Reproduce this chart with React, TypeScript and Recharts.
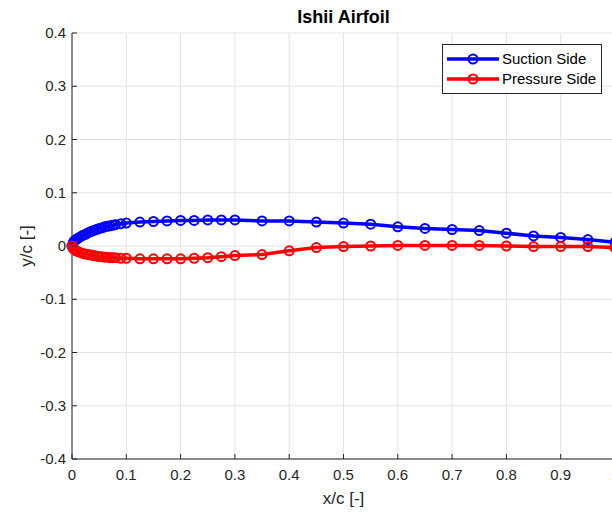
import React from 'react';
import { LineChart, Line, XAxis, YAxis, CartesianGrid } from 'recharts';

// Airfoil coordinates (x/c, y/c)
const xCoords = [
  0, 0.0025, 0.005, 0.0075, 0.01, 0.015, 0.02, 0.025, 0.03, 0.035, 0.04, 0.045, 0.05, 0.055, 0.06,
  0.065, 0.07, 0.075, 0.08, 0.09, 0.1, 0.125, 0.15, 0.175, 0.2, 0.225, 0.25, 0.275, 0.3, 0.35, 0.4,
  0.45, 0.5, 0.55, 0.6, 0.65, 0.7, 0.75, 0.8, 0.85, 0.9, 0.95, 1,
];
const suctionY = [
  0, 0.007, 0.01, 0.012, 0.014, 0.017, 0.02, 0.022, 0.025, 0.027, 0.029, 0.031, 0.033, 0.034, 0.036,
  0.037, 0.038, 0.039, 0.04, 0.042, 0.043, 0.045, 0.046, 0.047, 0.048, 0.048, 0.049, 0.049, 0.049, 0.047, 0.047,
  0.045, 0.043, 0.041, 0.036, 0.033, 0.031, 0.029, 0.024, 0.019, 0.016, 0.012, 0.007,
];
const pressureY = [
  0, -0.005, -0.007, -0.009, -0.01, -0.012, -0.014, -0.015, -0.016, -0.017, -0.018, -0.019, -0.02, -0.02, -0.021,
  -0.021, -0.022, -0.022, -0.022, -0.023, -0.023, -0.024, -0.024, -0.024, -0.024, -0.023, -0.022, -0.02, -0.018, -0.016, -0.009,
  -0.003, -0.001, 0, 0.001, 0.001, 0.001, 0.001, 0, -0.001, -0.001, -0.001, -0.003,
];

const xTicks = [0, 0.1, 0.2, 0.3, 0.4, 0.5, 0.6, 0.7, 0.8, 0.9, 1];
const yTicks = [-0.4, -0.3, -0.2, -0.1, 0, 0.1, 0.2, 0.3, 0.4];

const suction = xCoords.map((x, i) => ({ x, y: suctionY[i] }));
const pressure = xCoords.map((x, i) => ({ x, y: pressureY[i] }));

const FONT = '"Liberation Sans", Arial, sans-serif';
const INK = '#262626';

// ticks point inward, like a MATLAB box axis
const BottomTick = ({ x, y, payload }: any) => (
  <g>
    <line x1={x} y1={y} x2={x} y2={y - 5} stroke={INK} />
    <text x={x} y={y + 21} textAnchor="middle" fontSize={15} fill={INK} fontFamily={FONT}>
      {payload.value}
    </text>
  </g>
);
const TopTick = ({ x, y }: any) => <line x1={x} y1={y} x2={x} y2={y + 5} stroke={INK} />;
const LeftTick = ({ x, y, payload }: any) => (
  <g>
    <line x1={x} y1={y} x2={x + 5} y2={y} stroke={INK} />
    <text x={x - 6} y={y + 5} textAnchor="end" fontSize={15} fill={INK} fontFamily={FONT}>
      {payload.value}
    </text>
  </g>
);
const RightTick = ({ x, y }: any) => <line x1={x} y1={y} x2={x - 5} y2={y} stroke={INK} />;

const legendItems = [
  { name: 'Suction Side', color: '#0000ff' },
  { name: 'Pressure Side', color: '#ff0000' },
];

const LegendBox = () => (
  <div
    style={{
      position: 'absolute',
      left: 442,
      top: 44,
      width: 160,
      boxSizing: 'border-box',
      border: `1px solid ${INK}`,
      background: '#fff',
      padding: '4px 4px',
      fontFamily: FONT,
      fontSize: 15,
      color: '#000',
      lineHeight: '20px',
    }}
  >
    {legendItems.map((it) => (
      <div key={it.name} style={{ display: 'flex', alignItems: 'center' }}>
        <svg width={52} height={20} style={{ marginRight: 3, flex: 'none' }}>
          <line x1={0} y1={10} x2={52} y2={10} stroke={it.color} strokeWidth={3.5} />
          <circle cx={26} cy={10} r={4.5} fill="none" stroke={it.color} strokeWidth={2} />
        </svg>
        <span style={{ whiteSpace: 'nowrap' }}>{it.name}</span>
      </div>
    ))}
  </div>
);

export default function App() {
  return (
    <div style={{ position: 'absolute', left: 0, top: 0, width: 612, height: 514, overflow: 'hidden', background: '#fff' }}>
      <div
        style={{
          position: 'absolute',
          left: 72,
          width: 543,
          top: 7,
          textAlign: 'center',
          fontFamily: FONT,
          fontWeight: 'bold',
          fontSize: 18,
          color: '#000',
        }}
      >
        Ishii Airfoil
      </div>
      <LineChart width={630} height={514} margin={{ top: 33, right: 15, bottom: 0, left: 0 }}>
        <CartesianGrid stroke="#e3e3e3" strokeWidth={1} />
        <XAxis
          type="number"
          dataKey="x"
          domain={[0, 1]}
          ticks={xTicks}
          tickSize={0}
          tickMargin={0}
          height={55}
          tick={<BottomTick />}
          axisLine={{ stroke: INK }}
          tickLine={false}
          interval={0}
          label={{ value: 'x/c [-]', position: 'insideBottom', offset: 10, fontSize: 17, fill: INK, fontFamily: FONT }}
        />
        <XAxis
          xAxisId="top"
          orientation="top"
          type="number"
          dataKey="x"
          domain={[0, 1]}
          ticks={xTicks}
          tickSize={0}
          tickMargin={0}
          height={0}
          tick={<TopTick />}
          axisLine={{ stroke: INK }}
          tickLine={false}
          interval={0}
        />
        <YAxis
          type="number"
          dataKey="y"
          domain={[-0.4, 0.4]}
          ticks={yTicks}
          tickSize={0}
          tickMargin={0}
          width={72}
          tick={<LeftTick />}
          axisLine={{ stroke: INK }}
          tickLine={false}
          interval={0}
          label={{ value: 'y/c [-]', angle: -90, position: 'insideLeft', offset: 26, fontSize: 17, fill: INK, fontFamily: FONT, style: { textAnchor: 'middle' } }}
        />
        <YAxis
          yAxisId="right"
          orientation="right"
          type="number"
          domain={[-0.4, 0.4]}
          ticks={yTicks}
          tickSize={0}
          tickMargin={0}
          width={0}
          tick={<RightTick />}
          axisLine={{ stroke: INK }}
          tickLine={false}
          interval={0}
        />
        <Line
          data={suction}
          dataKey="y"
          name="Suction Side"
          stroke="#0000ff"
          strokeWidth={3.5}
          dot={{ r: 4.5, stroke: '#0000ff', strokeWidth: 2, fill: 'none' }}
          isAnimationActive={false}
        />
        <Line
          data={pressure}
          dataKey="y"
          name="Pressure Side"
          stroke="#ff0000"
          strokeWidth={3.5}
          dot={{ r: 4.5, stroke: '#ff0000', strokeWidth: 2, fill: 'none' }}
          isAnimationActive={false}
        />
      </LineChart>
      <LegendBox />
    </div>
  );
}
